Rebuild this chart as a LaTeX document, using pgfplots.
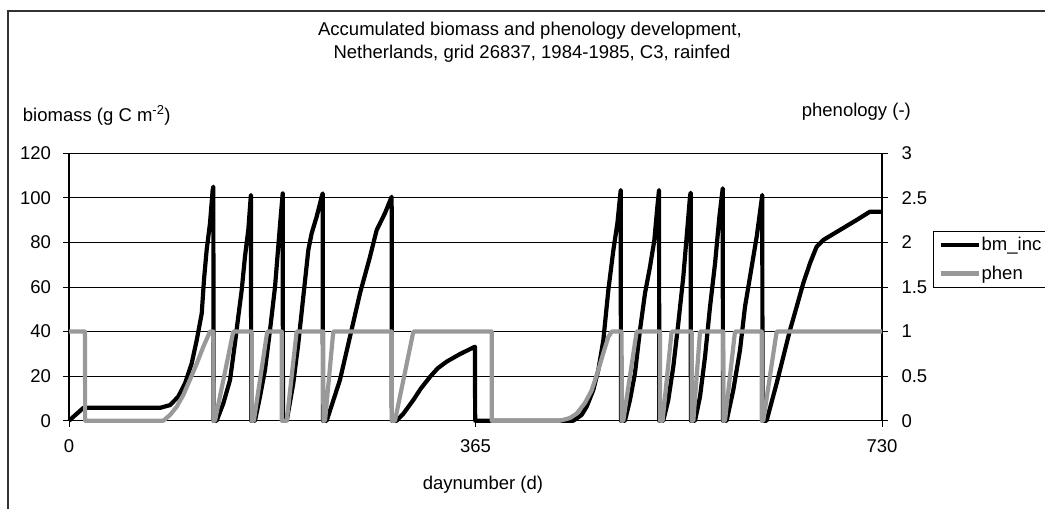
\documentclass[border=0pt]{standalone}
\usepackage{fontspec}
\setmainfont{Liberation Sans}
\usepackage{pgfplots}
\usepackage{pgfplotstable}
\pgfplotsset{compat=1.18}

\definecolor{phengray}{RGB}{153,153,153}
\definecolor{framegray}{RGB}{51,51,51}
\newcommand{\chartfont}{\fontsize{18.5}{22}\selectfont}

% accumulated biomass (left axis, g C m-2)
\pgfplotstableread{
day bm
0 0
13 5.8
82 5.8
90.7 7
98.1 10.8
104.2 16.8
110.2 25.8
114.7 36.2
119.2 48.2
121.2 63.2
123.6 76.6
126.6 88.6
129 103.5
129.6 105
129.8 0
132.6 0
138.6 7.8
144.6 18.3
149 34.7
152 46.7
155.1 58.7
158 73.6
161 85.6
163.2 100.5
163.4 101.3
163.6 0
167 0
171.5 10.8
176 22.8
180.5 40.7
185 60.1
187.9 78.1
190.1 91.6
191.9 102
192.1 0
195.5 0
201.4 16.8
205.9 34.7
210.4 55.7
214.9 76.6
217.9 84.1
222.4 91.6
226.9 100.5
227.8 102
228 0
231.4 0
243.3 18.3
252.3 37.7
261.3 57.2
270.3 73.6
276.3 85.6
283.7 93.1
289.7 100.5
289.9 0
294.2 0
300 3
309.2 9.3
316 14.5
324.2 19.7
331 23.5
339.1 26.5
351 29.9
364.5 33.2
364.7 0
452.8 0
460.3 2.6
464.8 6.3
470.8 13.8
475.3 22.8
479.8 36.2
484.3 58.7
488.8 76.6
492.4 88.6
495.4 103.5
495.6 0
499.2 0
503.7 9.3
508.2 21.3
512.7 40.7
517.2 57.2
521.7 69.1
525.6 81.1
528.3 96
529.8 103.5
530 0
533.6 0
538.1 9.3
542.6 24.2
547.1 43.7
551.6 64.6
554.6 82.6
557.6 100.5
558.2 102.3
558.4 0
562.1 0
566.6 10.8
571.1 28.7
575.6 51.2
580.1 70.6
584 91.6
587 104.3
587.2 0
590.5 0
596.5 13.8
602.5 31.7
607 51.2
611.5 64.6
617.5 82.6
622.5 101.3
622.7 0
626.4 0
635.4 16.8
647.4 40.7
653.4 51.2
659.3 61.7
665.3 70.6
671.3 78.1
677.3 81.1
692.3 85.6
707.3 90.1
719.2 93.8
730 93.8
}\bmtable

% phenology (right axis, -)
\pgfplotstableread{
day ph
0 1
14.4 1
14.5 0
84.7 0
90.7 0.064
96.7 0.157
102.7 0.29
108.6 0.46
114.7 0.64
120.6 0.83
126.6 1
129.6 1
129.7 0
131.1 0
147.5 1
164 1
164.1 0
166 0
178 1
191 1
191.1 0
195.5 0
204.4 1
228.3 1
228.4 0
229.9 0
237.3 1
289.8 1
289.9 0
292.7 0
309.2 1
379.5 1
379.6 0
440.9 0
449.8 0.03
455.9 0.08
463.3 0.2
469.3 0.34
475.3 0.57
479.8 0.76
484.3 0.94
487.3 1
496.2 1
496.3 0
497.7 0
509.7 1
530.6 1
530.7 0
533 0
541.1 1
559.1 1
559.2 0
560.6 0
566.6 1
587.5 1
587.6 0
589 0
598 1
622 1
622.1 0
623.4 0
635.4 1
730 1
}\phtable

\pgfplotsset{
  twin/.style={
    scale only axis, width=813pt, height=267.4pt,
    at={(69pt,-420.7pt)}, anchor=south west,
    xmin=0, xmax=730, clip=false,
    font=\chartfont,
    /pgf/number format/assume math mode=true,
    tick align=outside, major tick length=6pt,
    every tick/.style={black, line width=1pt},
    axis line style={black, line width=1.2pt},
  },
}

\begin{document}
\begin{tikzpicture}
\begin{axis}[twin,
  ymin=0, ymax=120, ytick={0,20,...,120},
  xtick={0,365,730},
  axis x line*=bottom, axis y line*=left,
  ymajorgrids, grid style={black, line width=1pt},
  xticklabel style={yshift=-9.5pt},
  yticklabel style={xshift=-8.5pt},
  xlabel={daynumber (d)},
  xlabel style={at={(axis description cs:0.5092,-0.2405)}, anchor=center},
  ylabel={biomass (g C m\textsuperscript{-2})},
  ylabel style={rotate=-90, at={(axis description cs:-0.0569,1.1208)}, anchor=base west, inner sep=0pt},
]
\addplot[black, line width=4.2pt, line join=round] table[x=day, y=bm] {\bmtable};
\end{axis}

\begin{axis}[twin,
  ymin=0, ymax=3, ytick={0,0.5,...,3},
  axis y line*=right, axis x line=none,
  yticklabel style={xshift=10pt},
  ylabel={phenology (-)},
  ylabel style={rotate=-90, at={(axis description cs:0.9012,1.1395)}, anchor=base west, inner sep=0pt},
  legend style={at={(axis description cs:1.0627,0.7106)}, anchor=north west,
    draw=black, line width=1pt, fill=white, font=\chartfont,
    inner xsep=5pt, inner ysep=5pt, row sep=12pt,
    nodes={inner sep=1pt}},
  legend cell align=left,
  legend image code/.code={\draw[#1] (0pt,0pt) -- (38pt,0pt);},
]
\addlegendimage{black, line width=4.2pt}
\addlegendentry{bm\_inc}
\addplot[phengray, line width=4.2pt, line join=round] table[x=day, y=ph] {\phtable};
\addlegendentry{phen}
\end{axis}

\draw[framegray, line width=2pt] (8pt,-600pt) -- (8pt,-11pt) -- (1100pt,-11pt);
\node[anchor=base, inner sep=0pt, font=\chartfont] at (530pt,-35pt)
  {Accumulated biomass and phenology development,};
\node[anchor=base, inner sep=0pt, font=\chartfont] at (532pt,-58.3pt)
  {Netherlands, grid 26837, 1984-1985, C3, rainfed};

\pgfresetboundingbox
\path[use as bounding box] (0pt,0pt) rectangle (1045pt,-509pt);
\end{tikzpicture}
\end{document}
